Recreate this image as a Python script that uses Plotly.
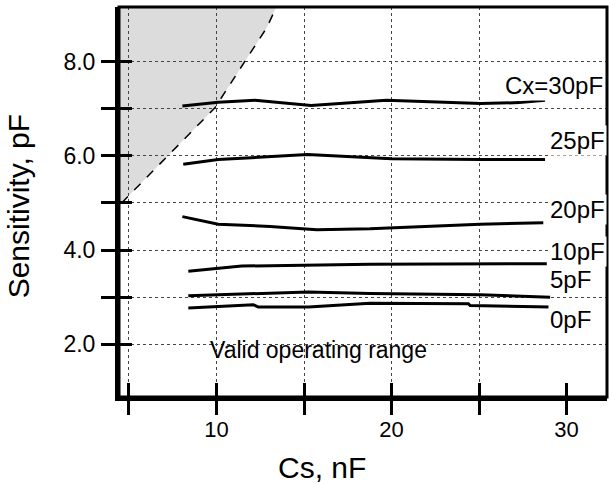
import plotly.graph_objects as go

# ---- data ----
X_RANGE = [4.43, 32.31]
Y_RANGE = [0.88, 9.16]

x_tickvals = [5, 10, 15, 20, 25, 30]
x_ticktext = ["", "10", "", "20", "", "30"]
x_gridvals = [5, 10, 15, 20, 25]
y_tickvals = [2, 3, 4, 5, 6, 7, 8]
y_ticktext = ["2.0", "", "4.0", "", "6.0", "", "8.0"]

cs_30 = [8.05, 10.1, 12.2, 15.4, 19.7, 22.6, 25.1, 27.3, 28.77]
s_30 = [7.06, 7.14, 7.18, 7.07, 7.18, 7.14, 7.11, 7.13, 7.18]

cs_25 = [8.1, 10.1, 15.2, 20.0, 25.1, 28.77]
s_25 = [5.82, 5.92, 6.03, 5.94, 5.92, 5.92]

cs_20 = [8.05, 10.1, 13.06, 15.73, 18.77, 25.06, 28.67]
s_20 = [4.71, 4.55, 4.50, 4.43, 4.45, 4.55, 4.58]

cs_10 = [8.39, 10.1, 11.44, 18.77, 28.87]
s_10 = [3.55, 3.62, 3.66, 3.70, 3.71]

cs_5 = [8.39, 15.25, 18.77, 25.06, 29.06]
s_5 = [3.03, 3.11, 3.08, 3.05, 3.00]

cs_0 = [8.39, 12.1, 12.39, 15.25, 18.77, 24.39, 24.49, 29.06]
s_0 = [2.77, 2.84, 2.79, 2.79, 2.87, 2.86, 2.82, 2.79]

boundary_cs = [4.58, 7.15, 9.91, 11.63, 12.87, 13.42]
boundary_s = [5.00, 5.97, 7.02, 8.01, 8.72, 9.16]

labels = ["Cx=30pF", "25pF", "20pF", "10pF", "5pF", "0pF"]
label_x = [26.37, 28.94, 28.94, 28.94, 28.94, 28.94]
label_y = [7.495, 6.327, 4.87, 3.96, 3.37, 2.52]
range_text = "Valid operating range"
range_x = 9.51
range_y = 1.885

FONT = "Liberation Sans, Arial, Helvetica, sans-serif"

fig = go.Figure()

series = [(cs_30, s_30), (cs_25, s_25), (cs_20, s_20),
          (cs_10, s_10), (cs_5, s_5), (cs_0, s_0)]
for xs, ys in series:
    fig.add_trace(go.Scatter(x=xs, y=ys, mode="lines",
                             line=dict(color="black", width=3),
                             showlegend=False, hoverinfo="skip"))

fig.add_trace(go.Scatter(x=boundary_cs, y=boundary_s, mode="lines",
                         line=dict(color="black", width=1.5, dash="dash"),
                         showlegend=False, hoverinfo="skip"))

# dummy traces for overlay axes
fig.add_trace(go.Scatter(x=[None], y=[None], xaxis="x2", yaxis="y2",
                         showlegend=False, hoverinfo="skip"))
fig.add_trace(go.Scatter(x=[None], y=[None], xaxis="x3", yaxis="y",
                         showlegend=False, hoverinfo="skip"))

# shaded invalid region (below gridlines)
pts = [(X_RANGE[0], boundary_s[0])] + list(zip(boundary_cs, boundary_s)) + [(X_RANGE[0], Y_RANGE[1])]
path = "M " + " L ".join(f"{a},{b}" for a, b in pts) + " Z"
shapes = [
    dict(type="path", path=path, xref="x", yref="y", layer="below",
         fillcolor="#dcdcdc", line=dict(width=0)),
    dict(type="rect", xref="paper", yref="paper", x0=0, x1=1, y0=0, y1=1,
         line=dict(color="black", width=3), layer="above"),
]

annotations = []
for t, ax_, ay_ in zip(labels, label_x, label_y):
    annotations.append(dict(text=t, x=ax_, y=ay_, xref="x", yref="y",
                            xanchor="left", yanchor="middle", showarrow=False,
                            bgcolor="white", borderpad=1,
                            font=dict(family=FONT, size=24, color="black")))
annotations.append(dict(text=range_text, x=range_x, y=range_y, xref="x", yref="y",
                        xanchor="left", yanchor="middle", showarrow=False,
                        font=dict(family=FONT, size=23, color="black")))
annotations.append(dict(text="Cs, nF", x=0.415, y=-0.1795, xref="paper", yref="paper",
                        xanchor="center", yanchor="middle", showarrow=False,
                        font=dict(family=FONT, size=30, color="black")))
annotations.append(dict(text="Sensitivity, pF", x=-0.206, y=0.49, xref="paper", yref="paper",
                        xanchor="center", yanchor="middle", showarrow=False, textangle=-90,
                        font=dict(family=FONT, size=30, color="black")))

common_x = dict(range=X_RANGE, zeroline=False, fixedrange=True)
common_y = dict(range=Y_RANGE, zeroline=False, fixedrange=True)

fig.update_layout(
    width=609, height=484,
    margin=dict(l=119, r=2, t=7, b=87),
    paper_bgcolor="white", plot_bgcolor="white",
    font=dict(family=FONT, color="black"),
    shapes=shapes, annotations=annotations,
    xaxis=dict(**common_x, tickmode="array", tickvals=x_tickvals, ticktext=x_ticktext,
               ticks="outside", ticklen=14, tickwidth=3, tickcolor="black",
               showline=True, linewidth=4, linecolor="black", showgrid=False,
               ticklabelstandoff=-4,
               tickfont=dict(family=FONT, size=22, color="black"), layer="above traces"),
    yaxis=dict(**common_y, tickmode="array", tickvals=y_tickvals, ticktext=y_ticktext,
               ticks="outside", ticklen=14, tickwidth=3, tickcolor="black",
               showline=True, linewidth=4, linecolor="black",
               showgrid=True, gridcolor="#444444", gridwidth=1, griddash="dot",
               ticklabelstandoff=1,
               tickfont=dict(family=FONT, size=23, color="black"), layer="above traces"),
    xaxis2=dict(**common_x, overlaying="x", anchor="y2", side="bottom",
                tickmode="array", tickvals=x_tickvals, ticks="inside", ticklen=14,
                tickwidth=3, tickcolor="black", showticklabels=False,
                showgrid=False, showline=False, layer="above traces"),
    yaxis2=dict(**common_y, overlaying="y", anchor="x2", side="left",
                tickmode="array", tickvals=y_tickvals, ticks="inside", ticklen=13,
                tickwidth=3, tickcolor="black", showticklabels=False,
                showgrid=False, showline=False, layer="above traces"),
    xaxis3=dict(**common_x, overlaying="x", anchor="y", side="bottom",
                tickmode="array", tickvals=x_gridvals, ticks="", showticklabels=False,
                showgrid=True, gridcolor="#444444", gridwidth=1, griddash="dot",
                showline=False),
)

fig.write_html("out.html", config={"displayModeBar": False},
               post_script="document.body.style.margin='0';document.body.style.overflow='hidden';")
